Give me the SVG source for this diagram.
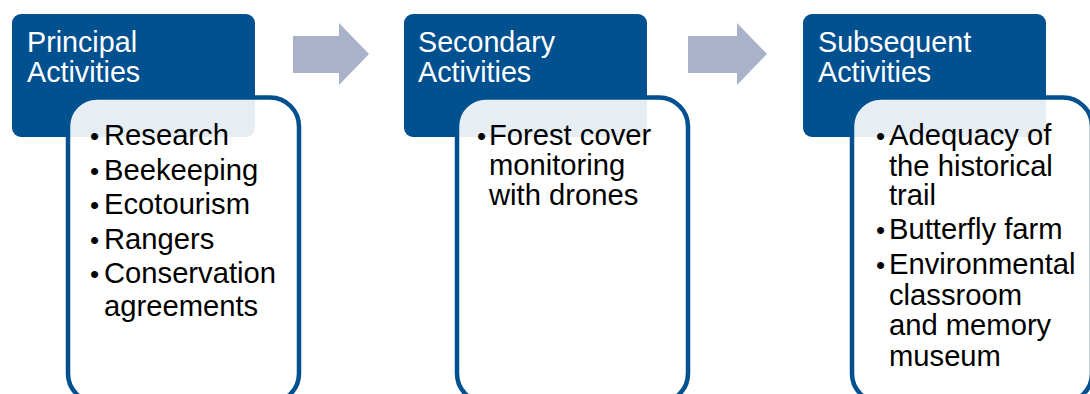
<svg xmlns="http://www.w3.org/2000/svg" width="1090" height="394" viewBox="0 0 1090 394">
<style>
.hdr{fill:#01508F;}
.card{fill:#ffffff;fill-opacity:0.9;stroke:#01508F;stroke-width:4.5;}
.ht{font-family:"Liberation Sans",Arial,sans-serif;font-size:28.7px;fill:#ffffff;}
.bt{font-family:"Liberation Sans",Arial,sans-serif;font-size:29.2px;fill:#000000;}
.bu{font-size:26px;}
.arr{fill:#A9B2C9;}
</style>
<rect width="1090" height="394" fill="#ffffff"/>
<g id="principal">
<rect class="hdr" x="12" y="14" width="243" height="123" rx="9"/>
<text class="ht" x="27" y="52">Principal</text>
<text class="ht" x="27" y="82">Activities</text>
<rect class="card" x="68" y="97.5" width="231" height="305" rx="29"/>
<text class="bt"><tspan class="bu" x="90" y="145">•</tspan><tspan x="104" y="145">Research</tspan></text>
<text class="bt"><tspan class="bu" x="90" y="180">•</tspan><tspan x="104" y="180">Beekeeping</tspan></text>
<text class="bt"><tspan class="bu" x="90" y="214">•</tspan><tspan x="104" y="214">Ecotourism</tspan></text>
<text class="bt"><tspan class="bu" x="90" y="248.5">•</tspan><tspan x="104" y="248.5">Rangers</tspan></text>
<text class="bt"><tspan class="bu" x="90" y="283">•</tspan><tspan x="104" y="283">Conservation</tspan><tspan x="104" y="316">agreements</tspan></text>
</g>
<g id="secondary">
<rect class="hdr" x="404" y="14" width="243" height="123" rx="9"/>
<text class="ht" x="418" y="52">Secondary</text>
<text class="ht" x="418" y="82">Activities</text>
<rect class="card" x="457" y="97.5" width="231" height="305" rx="29"/>
<text class="bt"><tspan class="bu" x="477" y="145">•</tspan><tspan x="489" y="145">Forest cover</tspan><tspan x="489" y="175">monitoring</tspan><tspan x="489" y="205">with drones</tspan></text>
</g>
<g id="subsequent">
<rect class="hdr" x="803" y="14" width="243" height="123" rx="9"/>
<text class="ht" x="818" y="52">Subsequent</text>
<text class="ht" x="818" y="82">Activities</text>
<rect class="card" x="852" y="97.5" width="240" height="305" rx="29"/>
<text class="bt"><tspan class="bu" x="876" y="145">•</tspan><tspan x="889" y="145">Adequacy of</tspan><tspan x="889" y="176">the historical</tspan><tspan x="889" y="205">trail</tspan></text>
<text class="bt"><tspan class="bu" x="876" y="239">•</tspan><tspan x="889" y="239">Butterfly farm</tspan></text>
<text class="bt"><tspan class="bu" x="876" y="274">•</tspan><tspan x="889" y="274">Environmental</tspan><tspan x="889" y="305">classroom</tspan><tspan x="889" y="335">and memory</tspan><tspan x="889" y="366">museum</tspan></text>
</g>
<g id="connectors">
<polygon class="arr" points="293,36 339,36 339,23 369,54 339,85 339,73 293,73"/>
<polygon class="arr" points="688,36 737,36 737,23 767,54 737,85 737,73 688,73"/>
</g>
</svg>
